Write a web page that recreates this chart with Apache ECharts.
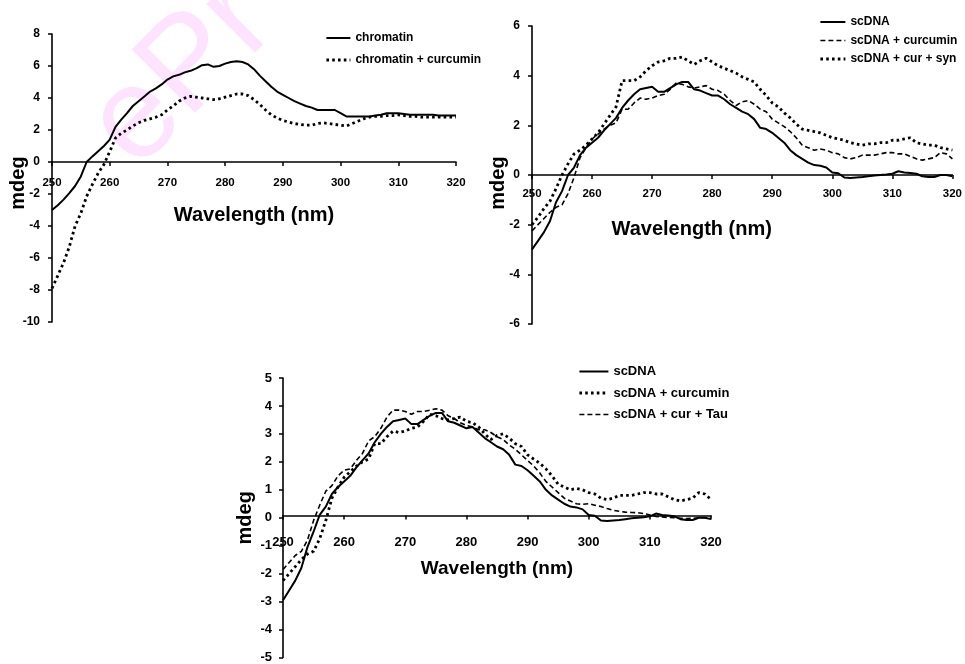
<!DOCTYPE html>
<html>
<head>
<meta charset="utf-8">
<script src="https://cdn.jsdelivr.net/npm/echarts@6/dist/echarts.min.js"></script>
<style>
  html, body { margin: 0; padding: 0; background: #fff; }
  #chart { width: 965px; height: 664px; }
</style>
</head>
<body>
<div id="chart"></div>
<script>
// ---------- DATA ----------
const wavelength = [250,251,252,253,254,255,256,257,258,259,260,261,262,263,264,265,266,267,268,269,
  270,271,272,273,274,275,276,277,278,279,280,281,282,283,284,285,286,287,288,289,
  290,291,292,293,294,295,296,297,298,299,300,301,302,303,304,305,306,307,308,309,
  310,311,312,313,314,315,316,317,318,319,320];

const xTicks = [250, 260, 270, 280, 290, 300, 310, 320];

// Panel A
const chromatin = [-3.0,-2.7,-2.35,-1.95,-1.5,-0.9,0.0,0.35,0.67,1.0,
  1.4,2.2,2.65,3.05,3.5,3.8,4.1,4.4,4.6,4.85,
  5.15,5.35,5.45,5.6,5.7,5.85,6.05,6.1,5.95,6.0,
  6.15,6.25,6.3,6.25,6.1,5.8,5.4,5.05,4.7,4.4,
  4.2,4.0,3.8,3.65,3.5,3.4,3.25,3.25,3.25,3.25,
  3.05,2.85,2.85,2.85,2.85,2.85,2.9,2.95,3.05,3.05,
  3.05,3.0,2.95,2.95,2.95,2.95,2.95,2.9,2.9,2.9,2.9];
const chromatinCurcumin = [-7.9,-7.1,-6.3,-5.3,-4.0,-3.2,-2.15,-1.4,-0.7,-0.15,
  0.65,1.5,1.8,2.0,2.25,2.45,2.6,2.7,2.8,2.95,
  3.25,3.5,3.8,4.0,4.1,4.05,4.0,3.95,3.9,3.95,
  4.05,4.15,4.25,4.25,4.15,3.9,3.6,3.25,2.95,2.75,
  2.6,2.5,2.4,2.35,2.3,2.3,2.4,2.45,2.4,2.35,
  2.3,2.25,2.4,2.55,2.7,2.8,2.85,2.85,2.9,2.9,
  2.95,2.9,2.85,2.85,2.8,2.8,2.8,2.8,2.8,2.8,2.8];

// Panel B
const scDNA_B = [-3.0,-2.65,-2.3,-1.85,-1.1,-0.65,0.0,0.3,0.8,1.1,
  1.3,1.5,1.8,2.05,2.3,2.7,3.0,3.25,3.45,3.5,
  3.55,3.35,3.35,3.5,3.65,3.75,3.75,3.45,3.4,3.3,
  3.2,3.2,3.05,2.85,2.7,2.55,2.45,2.25,1.9,1.85,
  1.7,1.5,1.3,1.0,0.8,0.65,0.5,0.4,0.37,0.3,
  0.1,0.07,-0.1,-0.12,-0.1,-0.08,-0.05,-0.02,0.0,0.02,
  0.05,0.15,0.1,0.08,0.05,-0.05,-0.08,-0.08,0.0,0.0,-0.05];
const scDNACurcumin_B = [-2.25,-2.0,-1.75,-1.5,-1.3,-1.2,-0.75,-0.1,0.7,1.1,
  1.45,1.65,1.85,2.0,2.1,2.65,2.65,2.9,3.1,3.05,
  3.1,3.2,3.25,3.45,3.7,3.65,3.55,3.5,3.55,3.6,
  3.45,3.4,3.25,3.0,2.8,2.95,3.0,2.85,2.65,2.55,
  2.25,2.1,1.95,1.75,1.5,1.2,1.1,1.0,1.05,1.0,
  0.9,0.85,0.7,0.65,0.7,0.8,0.8,0.8,0.85,0.9,
  0.9,0.85,0.85,0.75,0.65,0.6,0.65,0.7,0.9,0.85,0.65];
const scDNACurSyn = [-2.0,-1.7,-1.35,-1.05,-0.55,0.0,0.45,0.85,1.0,1.2,
  1.45,1.7,2.05,2.4,2.75,3.8,3.8,3.8,3.95,4.2,
  4.4,4.55,4.6,4.7,4.7,4.75,4.6,4.45,4.6,4.7,
  4.55,4.4,4.3,4.2,4.1,3.95,3.85,3.75,3.45,3.2,
  2.9,2.75,2.5,2.3,2.05,1.85,1.8,1.75,1.7,1.6,
  1.5,1.45,1.4,1.3,1.25,1.2,1.25,1.25,1.3,1.3,
  1.4,1.4,1.45,1.5,1.3,1.25,1.2,1.2,1.1,1.05,1.0];

// Panel C
const scDNA_C = [-2.95,-2.6,-2.25,-1.8,-1.05,-0.5,0.1,0.4,0.85,1.1,
  1.3,1.5,1.8,2.05,2.3,2.7,3.0,3.25,3.45,3.5,
  3.55,3.35,3.35,3.5,3.65,3.75,3.75,3.45,3.4,3.3,
  3.2,3.25,3.05,2.85,2.7,2.55,2.45,2.25,1.9,1.85,
  1.7,1.5,1.3,1.0,0.8,0.65,0.5,0.4,0.37,0.3,
  0.1,0.07,-0.1,-0.12,-0.1,-0.08,-0.05,-0.02,0.0,0.02,
  0.05,0.15,0.1,0.08,0.05,-0.05,-0.08,-0.08,0.0,0.0,-0.05];
const scDNACurcumin_C = [-2.25,-2.0,-1.75,-1.5,-1.3,-1.2,-0.75,-0.1,0.7,1.1,
  1.45,1.65,1.85,2.0,2.1,2.65,2.65,2.9,3.1,3.05,
  3.1,3.2,3.25,3.45,3.7,3.65,3.55,3.5,3.55,3.6,
  3.45,3.4,3.25,3.0,2.8,2.95,3.0,2.85,2.65,2.55,
  2.25,2.1,1.95,1.75,1.5,1.2,1.1,1.0,1.05,1.0,
  0.9,0.85,0.7,0.65,0.7,0.8,0.8,0.8,0.85,0.9,
  0.9,0.85,0.85,0.75,0.65,0.6,0.65,0.7,0.9,0.85,0.65];
const scDNACurTau = [-1.85,-1.6,-1.35,-1.2,-0.8,-0.1,0.45,0.95,1.15,1.5,
  1.7,1.75,2.05,2.3,2.75,2.9,3.2,3.6,3.85,3.85,
  3.8,3.7,3.8,3.8,3.85,3.9,3.85,3.65,3.55,3.4,
  3.3,3.25,3.15,3.15,3.05,2.9,2.8,2.6,2.45,2.25,
  2.05,1.85,1.6,1.3,1.1,0.9,0.7,0.6,0.5,0.48,
  0.5,0.45,0.4,0.33,0.27,0.23,0.2,0.19,0.18,0.15,
  0.1,0.05,0.03,0.01,0.0,-0.02,-0.03,-0.02,0.0,0.0,-0.02];

// ---------- STYLE ----------
const ARIAL = "'Liberation Sans', Arial, sans-serif";
const ZW = '\u200B';

const pairs = vals => wavelength.map((w, i) => [w, vals[i]]);
const SOLID = { color: '#000', width: 2, type: 'solid' };
const DASH = { color: '#000', width: 1.6, type: [5, 3] };
const DOT = { color: '#000', width: 2.8, type: [2.6, 3.2] };

const grids = [
  { left: 52, top: 34, width: 404, height: 288, yMin: -10, yMax: 8, yInt: 2 },
  { left: 532, top: 26, width: 423, height: 298, yMin: -6, yMax: 6, yInt: 2 },
  { left: 283, top: 378, width: 428, height: 284, yMin: -5, yMax: 5, yInt: 1 }
];
// x axis sits on the zero line: offset from the grid bottom
const zeroOffset = g => -g.height * (0 - g.yMin) / (g.yMax - g.yMin);

function mkSeries(name, data, ls, idx) {
  return { type: 'line', name, data: pairs(data), xAxisIndex: idx, yAxisIndex: idx,
    symbol: 'none', lineStyle: ls, itemStyle: { color: '#000' }, silent: true, z: 3 };
}

function mkX(idx, fs, margin, nameGap, nameFs, namePad) {
  return {
    type: 'value', gridIndex: idx, min: 250, max: 320, interval: 10,
    position: 'bottom', offset: zeroOffset(grids[idx]),
    axisLine: { onZero: false, lineStyle: { color: '#000', width: 1.6 } },
    axisTick: { show: true, inside: false, length: 4, lineStyle: { color: '#000', width: 1.5 } },
    axisLabel: { fontFamily: ARIAL, fontWeight: 'bold', fontSize: fs, color: '#000', margin,
      customValues: xTicks, showMinLabel: true, showMaxLabel: true },
    splitLine: { show: false },
    name: 'Wavelength (nm)', nameLocation: 'middle', nameGap, nameMoveOverlap: false,
    nameTextStyle: { fontFamily: ARIAL, fontWeight: 'bold', fontSize: nameFs, color: '#000', padding: namePad }
  };
}
function mkY(idx, fs, margin, nameGap, namePad) {
  const g = grids[idx];
  return {
    type: 'value', gridIndex: idx, min: g.yMin, max: g.yMax, interval: g.yInt,
    axisLine: { show: true, onZero: false, lineStyle: { color: '#000', width: 1.6 } },
    axisTick: { show: true, inside: false, length: 4, lineStyle: { color: '#000', width: 1.5 } },
    axisLabel: { fontFamily: ARIAL, fontWeight: 'bold', fontSize: fs, color: '#000', margin },
    splitLine: { show: false },
    name: 'mdeg', nameLocation: 'middle', nameRotate: 90, nameGap, nameMoveOverlap: false,
    nameTextStyle: { fontFamily: ARIAL, fontWeight: 'bold', fontSize: 20, color: '#000', padding: namePad }
  };
}
function mkLegend(names, left, top, itemWidth, itemGap, fs) {
  return {
    orient: 'vertical', left, top, padding: 0, itemWidth, itemHeight: 10, itemGap, selectedMode: false,
    data: names,
    itemStyle: { opacity: 0 },
    lineStyle: { width: 'inherit' },
    formatter: n => n.replace(/\u200B/g, ''),
    textStyle: { fontFamily: ARIAL, fontWeight: 'bold', fontSize: fs, color: '#000' }
  };
}

const chart = echarts.init(document.getElementById('chart'), null, { renderer: 'canvas' });
chart.setOption({
  animation: false,
  backgroundColor: '#fff',
  graphic: [{
    type: 'text', x: 157, y: 192, rotation: Math.PI / 4, z: -10, silent: true,
    style: { text: 'ePr', fill: '#fde3fd', fontFamily: ARIAL, fontWeight: 'normal', fontSize: 130,
      verticalAlign: 'bottom' }
  }],
  grid: grids.map(g => ({ left: g.left, top: g.top, width: g.width, height: g.height })),
  xAxis: [
    mkX(0, 11.5, 15, 43, 20, 0),
    mkX(1, 11.5, 13, 44, 20, [0, 101, 0, 0]),
    mkX(2, 13, 20, 44, 19, 0)
  ],
  yAxis: [
    mkY(0, 12, 12, 24, [0, 10, 0, 0]),
    mkY(1, 12, 12, 24, [0, 16, 0, 0]),
    mkY(2, 13, 11, 28, 0)
  ],
  legend: [
    mkLegend(['chromatin', 'chromatin + curcumin'], 325, 32, 24, 10, 12),
    mkLegend(['scDNA', 'scDNA + curcumin', 'scDNA + cur + syn'], 819, 16, 25, 6.5, 12),
    mkLegend(['scDNA' + ZW, 'scDNA + curcumin' + ZW, 'scDNA + cur + Tau'], 578, 365, 29, 8.5, 13)
  ],
  series: [
    mkSeries('chromatin', chromatin, SOLID, 0),
    mkSeries('chromatin + curcumin', chromatinCurcumin, DOT, 0),
    mkSeries('scDNA', scDNA_B, SOLID, 1),
    mkSeries('scDNA + curcumin', scDNACurcumin_B, DASH, 1),
    mkSeries('scDNA + cur + syn', scDNACurSyn, DOT, 1),
    mkSeries('scDNA' + ZW, scDNA_C, SOLID, 2),
    mkSeries('scDNA + curcumin' + ZW, scDNACurcumin_C, DOT, 2),
    mkSeries('scDNA + cur + Tau', scDNACurTau, DASH, 2)
  ]
});
</script>
</body>
</html>
